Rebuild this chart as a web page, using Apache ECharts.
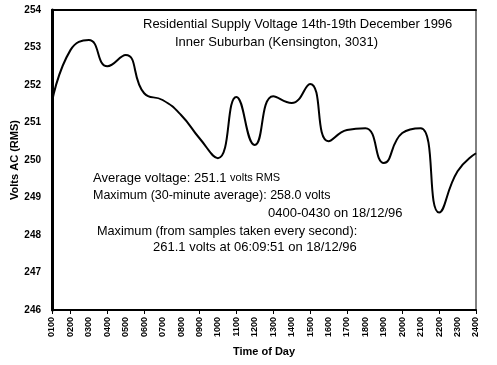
<!DOCTYPE html>
<html>
<head>
<meta charset="utf-8">
<script src="https://cdn.jsdelivr.net/npm/echarts@6/dist/echarts.min.js"></script>
<style>html,body{margin:0;padding:0;background:#fff;}#c{width:497px;height:365px;}</style>
</head>
<body>
<div id="c"></div>
<script>
var hours = ['0100','0200','0300','0400','0500','0600','0700','0800','0900','1000','1100','1200',
             '1300','1400','1500','1600','1700','1800','1900','2000','2100','2200','2300','2400'];
var voltage = [251.55, 252.93, 253.2, 252.5, 252.8, 251.78, 251.6, 251.2, 250.58, 250.05, 251.68, 250.4,
               251.7, 251.52, 252.03, 250.5, 250.8, 250.85, 249.92, 250.72, 250.85, 248.6, 249.7, 250.18];
var tickHours = ['0100','0200','0400','0600','0900','1100','1300','1500','1700','2000','2200','2400'];
var yMin = 246, yMax = 254, yStep = 1;

var font = '"Liberation Sans", Arial, sans-serif';
var chart = echarts.init(document.getElementById('c'), null, {renderer: 'canvas'});
chart.setOption({
  animation: false,
  backgroundColor: '#fff',
  grid: {left: 52, right: 21, top: 10, bottom: 55, show: true, borderColor: '#000', borderWidth: 1,
         containLabel: false, outerBoundsMode: 'none'},
  xAxis: [{
    type: 'category', data: hours, boundaryGap: false, position: 'bottom',
    axisLine: {lineStyle: {color: '#000', width: 2}},
    axisTick: {show: true, length: 4, lineStyle: {color: '#000', width: 1},
      interval: function (i, v) { return tickHours.indexOf(v) >= 0; }},
    axisLabel: {interval: 0, rotate: 90, color: '#000', fontFamily: font, fontWeight: 'bold', fontSize: 9, margin: 7},
    splitLine: {show: false},
    name: 'Time of Day', nameLocation: 'middle', nameGap: 36, nameMoveOverlap: false,
    nameTextStyle: {color: '#000', fontFamily: font, fontWeight: 'bold', fontSize: 11}
  }, {
    type: 'category', data: hours, boundaryGap: false, position: 'top',
    axisLine: {lineStyle: {color: '#000', width: 2}},
    axisTick: {show: false}, axisLabel: {show: false}, splitLine: {show: false}
  }],
  yAxis: {
    type: 'value', min: yMin, max: yMax, interval: yStep,
    axisLine: {show: true, lineStyle: {color: '#000', width: 3}},
    axisTick: {show: false},
    axisLabel: {color: '#000', fontFamily: font, fontWeight: 'bold', fontSize: 10, margin: 11},
    splitLine: {show: false},
    name: 'Volts AC (RMS)', nameLocation: 'middle', nameGap: 32, nameRotate: 90, nameMoveOverlap: false,
    nameTextStyle: {color: '#000', fontFamily: font, fontWeight: 'bold', fontSize: 11}
  },
  series: [{
    type: 'line', data: voltage, smooth: 0.5, showSymbol: false, xAxisIndex: 0,
    lineStyle: {color: '#000', width: 2}
  }],
  graphic: [
    {type: 'text', left: 143, top: 18, style: {text: 'Residential Supply Voltage 14th-19th December 1996', font: '13px ' + font, fill: '#000'}},
    {type: 'text', left: 175, top: 36, style: {text: 'Inner Suburban (Kensington, 3031)', font: '13px ' + font, fill: '#000'}},
    {type: 'text', left: 93, top: 172, style: {
      rich: {a: {fontSize: 13, fontFamily: font, fill: '#000', verticalAlign: 'bottom'}, b: {fontSize: 11, fontFamily: font, fill: '#000', verticalAlign: 'bottom', padding: [0,0,2,0]}},
      text: '{a|Average voltage: 251.1 }{b|volts RMS}'}},
    {type: 'text', left: 93, top: 189, style: {text: 'Maximum (30-minute average): 258.0 volts', font: '12.5px ' + font, fill: '#000'}},
    {type: 'text', left: 268, top: 207, style: {text: '0400-0430 on 18/12/96', font: '13px ' + font, fill: '#000'}},
    {type: 'text', left: 97, top: 225, style: {text: 'Maximum (from samples taken every second):', font: '12.7px ' + font, fill: '#000'}},
    {type: 'text', left: 153, top: 241, style: {text: '261.1 volts at 06:09:51 on 18/12/96', font: '13px ' + font, fill: '#000'}}
  ]
});
</script>
</body>
</html>
